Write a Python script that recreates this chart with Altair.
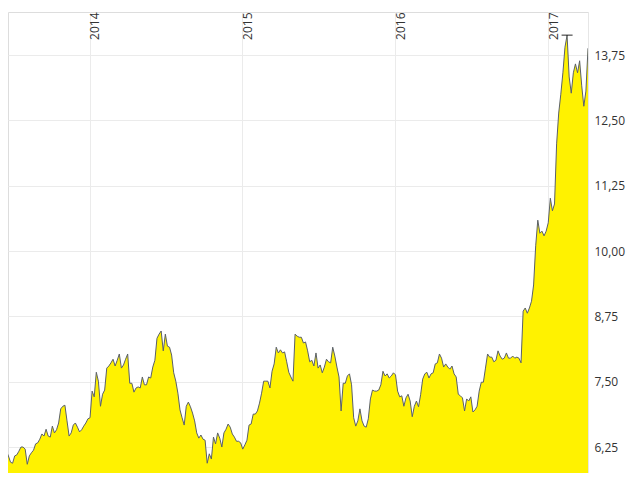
import altair as alt
import pandas as pd

start_date = "2013-06-16"
step = "5D"
prices = [6.17, 6.08, 5.96, 5.94, 6.08, 6.10, 6.17, 6.25, 6.25, 6.21,
          5.92, 6.08, 6.14, 6.19, 6.31, 6.33, 6.40, 6.50, 6.46, 6.59,
          6.46, 6.44, 6.65, 6.52, 6.58, 6.71, 6.98, 7.03, 7.05, 6.75,
          6.46, 6.52, 6.67, 6.71, 6.63, 6.54, 6.58, 6.65, 6.71, 6.79,
          6.81, 7.32, 7.21, 7.68, 7.51, 7.03, 7.26, 7.34, 7.76, 7.80,
          7.86, 7.93, 7.80, 7.91, 8.03, 7.76, 7.82, 7.93, 8.03, 7.47,
          7.47, 7.30, 7.38, 7.40, 7.38, 7.59, 7.44, 7.44, 7.59, 7.57,
          7.78, 7.91, 8.33, 8.41, 8.47, 8.09, 8.41, 8.18, 8.16, 8.01,
          7.67, 7.51, 7.28, 6.96, 6.81, 6.67, 7.03, 7.11, 7.02, 6.90,
          6.75, 6.52, 6.42, 6.48, 6.40, 6.38, 5.94, 6.12, 6.02, 6.44,
          6.31, 6.52, 6.42, 6.25, 6.52, 6.59, 6.69, 6.63, 6.50, 6.44,
          6.36, 6.36, 6.33, 6.21, 6.29, 6.38, 6.67, 6.69, 6.88, 6.88,
          6.94, 7.09, 7.28, 7.51, 7.51, 7.51, 7.38, 7.70, 7.84, 8.16,
          8.05, 8.11, 8.05, 8.07, 7.88, 7.68, 7.59, 7.51, 8.41, 8.37,
          8.35, 8.35, 8.24, 8.26, 8.09, 7.88, 7.91, 7.80, 8.05, 7.76,
          7.82, 7.67, 7.78, 7.93, 7.88, 7.86, 8.16, 7.99, 7.78, 7.59,
          6.94, 7.47, 7.47, 7.61, 7.65, 7.44, 6.81, 6.65, 6.75, 6.98,
          6.75, 6.65, 6.63, 6.79, 7.17, 7.34, 7.32, 7.32, 7.34, 7.44,
          7.70, 7.61, 7.65, 7.57, 7.61, 7.67, 7.63, 7.32, 7.21, 7.23,
          7.03, 7.19, 7.26, 7.13, 6.83, 7.03, 7.13, 7.02, 7.25, 7.55,
          7.65, 7.68, 7.57, 7.65, 7.67, 7.84, 7.86, 8.03, 7.95, 7.78,
          7.84, 7.78, 7.74, 7.80, 7.65, 7.59, 7.26, 7.23, 7.19, 6.94,
          7.17, 7.13, 7.21, 6.92, 6.96, 7.03, 7.32, 7.49, 7.49, 7.76,
          8.03, 7.97, 7.97, 7.88, 7.91, 8.09, 7.99, 7.93, 7.95, 8.05,
          7.95, 7.95, 7.99, 7.95, 7.97, 7.95, 7.86, 8.85, 8.91, 8.81,
          8.91, 9.04, 9.35, 10.10, 10.59, 10.34, 10.38, 10.29, 10.38, 10.54,
          11.01, 10.77, 10.90, 12.05, 12.64, 13.00, 13.41, 13.90, 14.13, 13.33,
          13.02, 13.41, 13.58, 13.41, 13.64, 13.16, 12.77, 13.06, 13.88]
y_ticks = [6.25, 7.5, 8.75, 10.0, 11.25, 12.5, 13.75]
year_ticks = [2014, 2015, 2016, 2017]
x_domain = ["2013-06-20", "2017-04-06"]
y_domain = [5.753, 14.573]

df = pd.DataFrame({
    "date": pd.date_range(start_date, periods=len(prices), freq=step),
    "price": prices,
})
peak = df.loc[[df["price"].idxmax()]]

x_enc = alt.X(
    "date:T",
    scale=alt.Scale(domain=x_domain),
    axis=alt.Axis(
        orient="top",
        values=[alt.DateTime(year=y, month=1, date=1) for y in year_ticks],
        format="%Y",
        labelAngle=270,
        labelAlign="right",
        labelBaseline="top",
        labelPadding=0,
        tickSize=0,
        domain=False,
        grid=True,
        gridColor="#ebebeb",
        labelFont="Open Sans",
        labelFontSize=12,
        labelColor="#333333",
        title=None,
    ),
)
y_enc = alt.Y(
    "price:Q",
    scale=alt.Scale(domain=y_domain, nice=False, zero=False),
    axis=alt.Axis(
        orient="right",
        values=y_ticks,
        labelExpr="replace(format(datum.value, '.2f'), '.', ',')",
        tickSize=0,
        labelPadding=6,
        domain=True,
        domainColor="#e6e6e6",
        grid=True,
        gridColor="#ebebeb",
        labelFont="Open Sans",
        labelFontSize=12,
        labelColor="#333333",
        title=None,
    ),
)

base = alt.Chart(df)
area = base.mark_area(color="#fff200", clip=True).encode(x=x_enc, y=y_enc)
line = base.mark_line(color="#5a6069", strokeWidth=1, clip=True).encode(
    x="date:T", y="price:Q")
marker = alt.Chart(peak).mark_tick(
    orient="horizontal", color="#000000", size=11, thickness=1.2
).encode(x="date:T", y="price:Q")

chart = (
    alt.layer(area, line, marker)
    .properties(width=580, height=461,
                padding={"left": 0, "top": 3, "right": 4, "bottom": 0})
    .configure_view(stroke=None)
    .configure(background="white")
)

chart.save("out.html", embed_options={"renderer": "svg", "actions": False})
